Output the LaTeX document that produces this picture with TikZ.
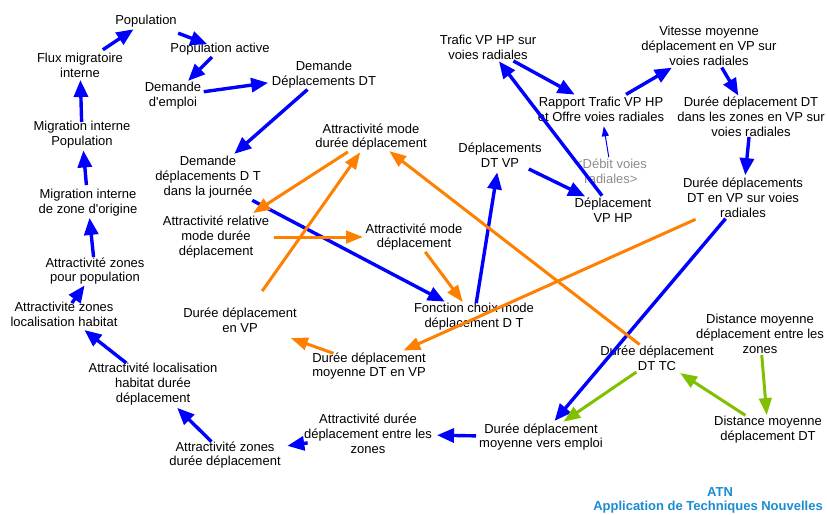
\documentclass[tikz,border=0pt]{standalone}
\usepackage{fontspec}
\setmainfont{Liberation Sans}
\usetikzlibrary{arrows.meta}
\definecolor{vblue}{RGB}{0,0,255}
\definecolor{vorange}{RGB}{255,128,0}
\definecolor{vgreen}{RGB}{128,192,0}
\definecolor{vgray}{RGB}{140,140,140}
\definecolor{atnblue}{RGB}{25,140,210}
\begin{document}
\begin{tikzpicture}[x=1pt,y=-1pt,
  var/.style={align=center, inner sep=0pt, font=\fontsize{13}{14.8}\selectfont},
  shadow/.style={var, text=vgray},
  brand/.style={inner sep=0pt, text=atnblue, font=\fontsize{13}{15}\selectfont\bfseries},
  sh/.style 2 args={shorten <=#1pt, shorten >=#2pt},
  bl/.style={draw=vblue, line width=3.4pt, -{Triangle[length=17pt,width=14pt]}},
  og/.style={draw=vorange, line width=3pt, -{Triangle[length=17pt,width=12.5pt]}},
  gn/.style={draw=vgreen, line width=3pt, -{Triangle[length=17pt,width=12.5pt]}},
  thin/.style={draw=vblue, line width=1pt, -{Triangle[length=10pt,width=7pt]}}
]
\useasboundingbox (0,0) rectangle (827,514);

% variables
\node[var] (pop)      at (146,21)  {Population};
\node[var] (popact)   at (220,49)  {Population active};
\node[var] (dememp)   at (173,96)  {Demande\\d\textquotesingle emploi};
\node[var] (demdep)   at (324,75)  {Demande\\Déplacements DT};
\node[var] (flux)     at (80,65)   {Flux migratoire\\interne};
\node[var] (migpop)   at (82,135)  {Migration interne\\Population};
\node[var] (demjour)  at (208,177) {Demande\\déplacements D T\\dans la journée};
\node[var] (migzone)  at (88,203)  {Migration interne\\de zone d\textquotesingle origine};
\node[var] (attrel)   at (216,237) {Attractivité relative\\mode durée\\déplacement};
\node[var] (azpop)    at (95,271)  {Attractivité zones\\pour population};
\node[var] (azloc)    at (64,314)  {Attractivité zones\\localisation habitat};
\node[var] (ddvp)     at (240,320) {Durée déplacement\\en VP};
\node[var] (amdd)     at (371,137) {Attractivité mode\\durée déplacement};
\node[var] (trafic)   at (488,47)  {Trafic VP HP sur\\voies radiales};
\node[var] (dtvp)     at (500,155) {Déplacements\\DT VP};
\node[var] (vitesse)  at (709,46)  {Vitesse moyenne\\déplacement en VP sur\\voies radiales};
\node[var] (rapport)  at (601,109) {Rapport Trafic VP HP\\et Offre voies radiales};
\node[var] (ddzones)  at (751,117) {Durée déplacement DT\\dans les zones en VP sur\\voies radiales};
\node[shadow] (debit) at (611,171) {<Débit voies\\radiales>};
\node[var] (dvphp)    at (613,210) {Déplacement\\VP HP};
\node[var] (ddradial) at (743,198) {Durée déplacements\\DT en VP sur voies\\radiales};
\node[var] (amd)      at (414,237) {Attractivité mode\\déplacement};
\node[var] (fonction) at (474,317) {Fonction choix mode\\déplacement D T};
\node[var] (ddmvp)    at (369,366) {Durée déplacement\\moyenne DT en VP};
\node[var] (ddtc)     at (657,358) {Durée déplacement\\DT TC};
\node[var] (distz)    at (760,334) {Distance moyenne\\déplacement entre les\\zones};
\node[var] (distdt)   at (768,430) {Distance moyenne\\déplacement DT};
\node[var] (ddmve)    at (541,437) {Durée déplacement\\moyenne vers emploi};
\node[var] (addz)     at (368,434) {Attractivité durée\\déplacement entre les\\zones};
\node[var] (azdd)     at (225,455) {Attractivité zones\\durée déplacement};
\node[var] (alh)      at (153,384) {Attractivité localisation\\habitat durée\\déplacement};

% signature
\node[brand] (atn) at (720,492) {ATN};
\node[brand] (app) at (708,507) {Application de Techniques Nouvelles};

% blue links
\draw[bl, sh={27.5}{15}]   (flux.center) -- (pop.center);
\draw[bl, sh={34.4}{13.5}] (pop.center) -- (popact.center);
\draw[bl, sh={11.4}{21.3}] (popact.center) -- (dememp.center);
\draw[bl, sh={31}{56.4}]   (dememp.center) -- (demdep.center);
\draw[bl, sh={22}{35}]     (demdep.center) -- (demjour.center);
\draw[bl, sh={13}{15}]     (migpop.center) -- (flux.center);
\draw[bl, sh={18}{15.5}]   (migzone.center) -- (migpop.center);
\draw[bl, sh={14}{15}]     (azpop.center) -- (migzone.center);
\draw[bl, sh={13.6}{17.8}] (azloc.center) -- (azpop.center);
\draw[bl, sh={34}{26}]     (alh.center) -- (azloc.center);
\draw[bl, sh={19}{34}]     (azdd.center) -- (alh.center);
\draw[bl, sh={61}{63}]     (addz.center) -- (azdd.center);
\draw[bl, sh={65}{69}]     (ddmve.center) -- (addz.center);
\draw[bl, sh={27}{21}]     (ddradial.center) -- (ddmve.center);
\draw[bl, sh={50}{33}]     (demjour.center) -- (fonction.center);
\draw[bl, sh={14}{17.5}]   (fonction.center) -- (dtvp.center);
\draw[bl, sh={32}{31}]     (dtvp.center) -- (dvphp.center);
\draw[bl, sh={18}{18}]     (dvphp.center) -- (trafic.center);
\draw[bl, sh={29}{30}]     (trafic.center) -- (rapport.center);
\draw[bl, sh={29}{43}]     (rapport.center) -- (vitesse.center);
\draw[bl, sh={25}{25}]     (vitesse.center) -- (ddzones.center);
\draw[bl, sh={20}{23}]     (ddzones.center) -- (ddradial.center);
\draw[thin, sh={14}{17.5}] (debit.center) -- (rapport.center);

% orange links
\draw[og, sh={27.5}{44}]   (amdd.center) -- (attrel.center);
\draw[og, sh={28}{18.6}]   ([xshift=6pt,yshift=6pt]ddvp.center) -- (amdd.center);
\draw[og, sh={22}{23}]     (ddtc.center) -- (amdd.center);
\draw[og, sh={58}{51}]     (attrel.center) -- (amd.center);
\draw[og, sh={18.6}{18.6}] (amd.center) -- (fonction.center);
\draw[og, sh={52}{37.6}]   (ddradial.center) -- (ddmvp.center);
\draw[og, sh={37.7}{54}]   (ddmvp.center) -- (ddvp.center);

% green links
\draw[gn, sh={25}{27}]     (ddtc.center) -- (ddmve.center);
\draw[gn, sh={27}{27.5}]   (distdt.center) -- (ddtc.center);
\draw[gn, sh={21}{15}]     (distz.center) -- (distdt.center);
\end{tikzpicture}
\end{document}
